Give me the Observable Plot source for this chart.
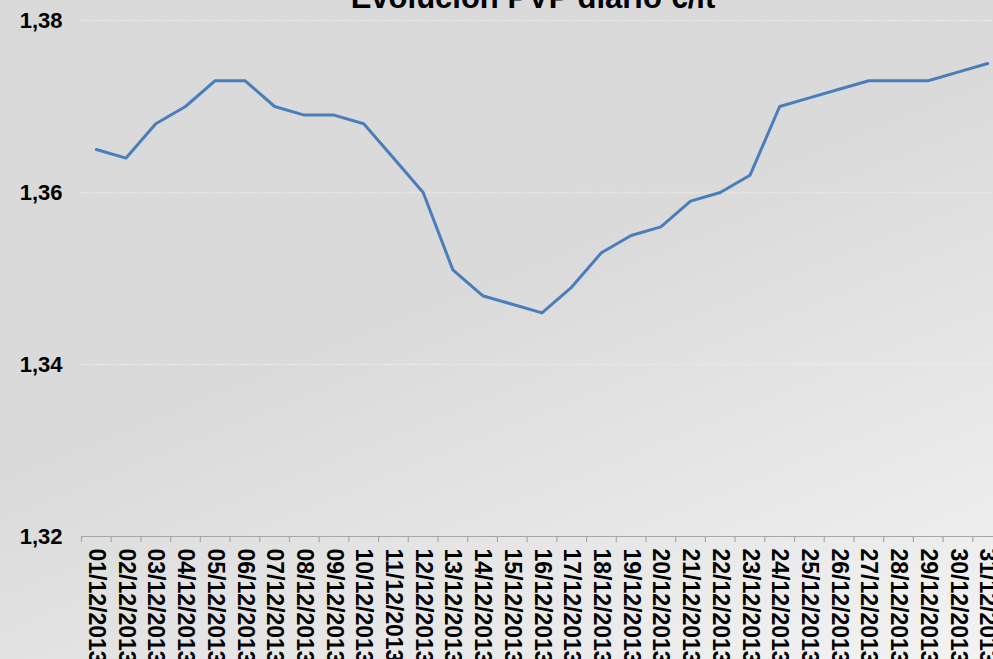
<!DOCTYPE html>
<html>
<head>
<meta charset="utf-8">
<script src="https://cdn.jsdelivr.net/npm/d3@7"></script>
<script src="https://cdn.jsdelivr.net/npm/@observablehq/plot@0.6"></script>
<style>
  html, body { margin: 0; padding: 0; width: 993px; height: 659px; overflow: hidden; }
  body { background: linear-gradient(158deg, #d9d9d9 0%, #dadada 45%, #f3f3f3 100%); font-family: "Liberation Sans", Arial, sans-serif; position: relative; }
  #title { position: absolute; top: -19px; left: 333px; width: 400px; text-align: center; font-weight: bold; font-size: 31px; line-height: 34px; color: #000; white-space: nowrap; }
  #chart { position: absolute; top: 0; left: 0; width: 1010px; }
  #chart svg { background: transparent; max-width: none !important; }
  #chart svg text { font-weight: bold; fill: #000; }
  #chart svg g[aria-label="y-axis tick label"] text { font-size: 22px; }
  #chart svg g[aria-label="x-axis tick label"] text { font-size: 23px; }
</style>
</head>
<body>
<div id="title">Evolución PVP diario €/lt</div>
<div id="chart"></div>
<script>
const title = "Evolución PVP diario €/lt";
const dates = ["01/12/2013","02/12/2013","03/12/2013","04/12/2013","05/12/2013","06/12/2013","07/12/2013","08/12/2013","09/12/2013","10/12/2013","11/12/2013","12/12/2013","13/12/2013","14/12/2013","15/12/2013","16/12/2013","17/12/2013","18/12/2013","19/12/2013","20/12/2013","21/12/2013","22/12/2013","23/12/2013","24/12/2013","25/12/2013","26/12/2013","27/12/2013","28/12/2013","29/12/2013","30/12/2013","31/12/2013"];
const prices = [1.365,1.364,1.368,1.370,1.373,1.373,1.370,1.369,1.369,1.368,1.364,1.360,1.351,1.348,1.347,1.346,1.349,1.353,1.355,1.356,1.359,1.360,1.362,1.370,1.371,1.372,1.373,1.373,1.373,1.374,1.375];
const yTicks = [1.32, 1.34, 1.36, 1.38];

const data = dates.map((d, i) => ({date: d, price: prices[i]}));
const step = (1002 - 81) / dates.length;

const chart = Plot.plot({
  width: 1010,
  height: 659,
  marginLeft: 81,
  marginRight: 8,
  marginTop: 20,
  marginBottom: 123,
  style: {background: "transparent", fontFamily: "'Liberation Sans', Arial, sans-serif", fontSize: "22px", fontWeight: "bold", color: "#000", maxWidth: "none"},
  x: {type: "band", domain: dates, padding: 0, round: false, range: [81, 1002]},
  y: {domain: [1.32, 1.38], range: [536, 20]},
  marks: [
    Plot.ruleY(yTicks.filter(v => v > 1.32), {stroke: "#efeee0", strokeWidth: 1.5, strokeDasharray: "1.5,1.5"}),
    Plot.ruleY([1.32], {stroke: "#a6a6a6", strokeWidth: 1.2}),
    Plot.ruleX(dates, {x: d => d, y1: 1.32, y2: 1.32 - 6 / 8600, dx: -step / 2, stroke: "#a6a6a6", strokeWidth: 1.2}),
    Plot.axisY({ticks: yTicks, tickSize: 0, tickPadding: 19, tickFormat: d => d.toFixed(2).replace(".", ","), label: null, fill: "#000", fontSize: 22, fontWeight: "bold"}),
    Plot.axisX({tickSize: 0, tickPadding: 12, tickRotate: 90, label: null, fill: "#000", fontSize: 23, fontWeight: "bold"}),
    Plot.line(data, {x: "date", y: "price", stroke: "#4a7ebb", strokeWidth: 3, strokeLinejoin: "round"})
  ]
});
document.getElementById("chart").appendChild(chart);
</script>
</body>
</html>
